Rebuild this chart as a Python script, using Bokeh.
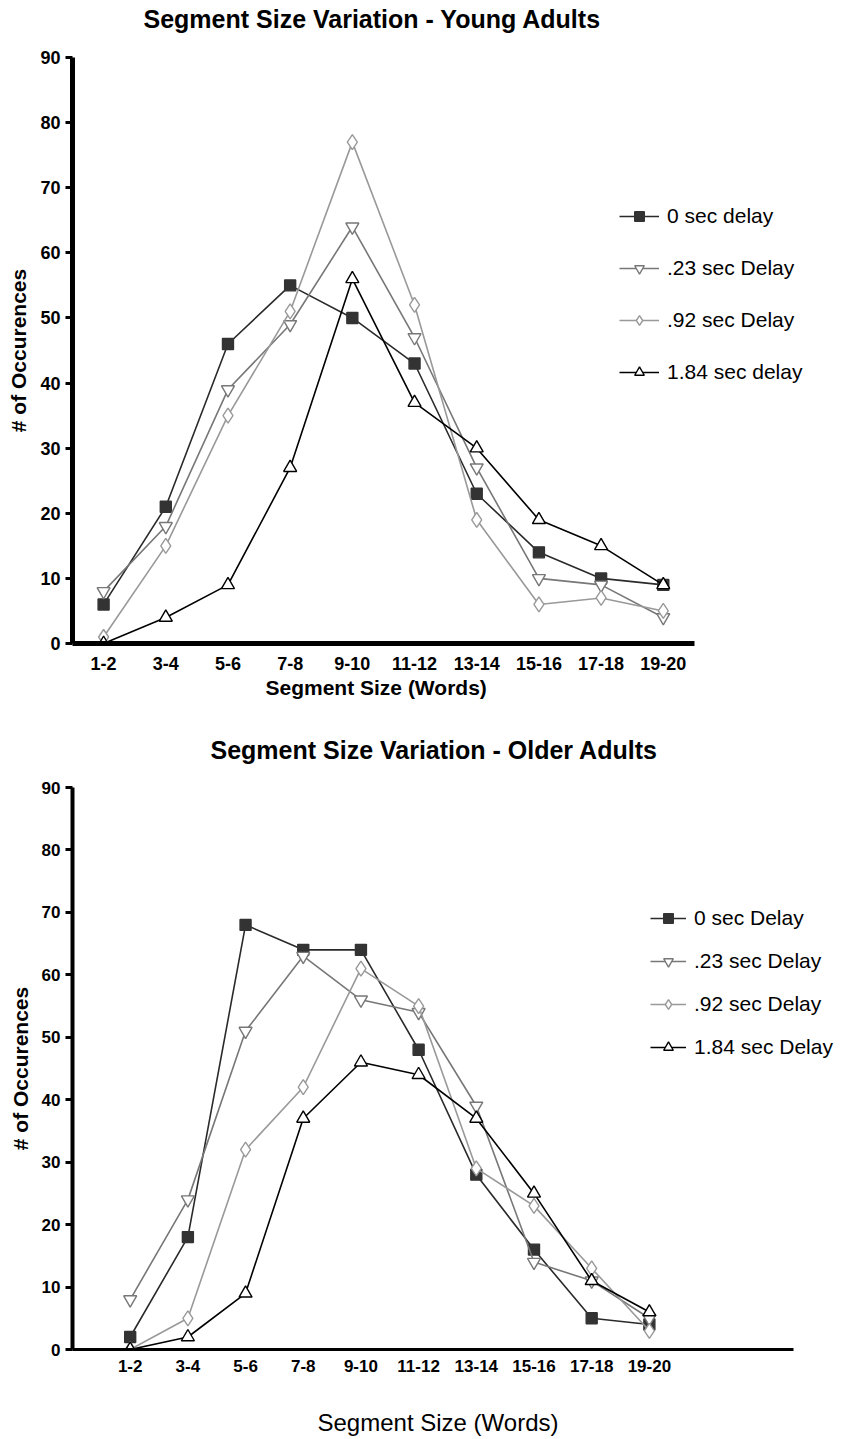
import numpy as np
from bokeh.plotting import figure
from bokeh.models import Range1d, FixedTicker, Legend, LegendItem, Title
from bokeh.embed import file_html
from bokeh.resources import INLINE

categories = ["1-2", "3-4", "5-6", "7-8", "9-10", "11-12", "13-14", "15-16", "17-18", "19-20"]
y_ticks = [0, 10, 20, 30, 40, 50, 60, 70, 80, 90]

young_0 = [6, 21, 46, 55, 50, 43, 23, 14, 10, 9]
young_023 = [8, 18, 39, 49, 64, 47, 27, 10, 9, 4]
young_092 = [1, 15, 35, 51, 77, 52, 19, 6, 7, 5]
young_184 = [0, 4, 9, 27, 56, 37, 30, 19, 15, 9]
young_labels = ["0 sec delay", ".23 sec Delay", ".92 sec Delay", "1.84 sec delay"]

older_0 = [2, 18, 68, 64, 64, 48, 28, 16, 5, 4]
older_023 = [8, 24, 51, 63, 56, 54, 39, 14, 11, 5]
older_092 = [0, 5, 32, 42, 61, 55, 29, 23, 13, 3]
older_184 = [0, 2, 9, 37, 46, 44, 37, 25, 11, 6]
older_labels = ["0 sec Delay", ".23 sec Delay", ".92 sec Delay", "1.84 sec Delay"]

x_title = "Segment Size (Words)"
y_title = "# of Occurences"

FONT = "Liberation Sans"
x_idx = list(range(len(categories)))

styles = [
    dict(line="#2a2a2a", marker="square", fill="#333333", mline="#333333", size=11),
    dict(line="#777777", marker="inverted_triangle", fill="white", mline="#777777", size=13),
    dict(line="#999999", marker="diamond", fill="white", mline="#999999", size=15),
    dict(line="#000000", marker="triangle", fill="white", mline="#000000", size=13),
]


def spacer(gap):
    return Title(text=" ", text_font_size="1px", standoff=gap)


def build(title, series, labels, x_start, x_end, x_bounds, height, borders, tick_size,
          xtick_standoff, axis_w, legend_loc, legend_spacing, glyph_w,
          top_gap, title_offset, xlab_style, xlab_size, xlab_gap, xlab_standoff, xlab_offset):
    left, right, top, bottom = borders
    p = figure(width=845, height=height, output_backend="svg", toolbar_location=None,
               title=None,
               x_range=Range1d(x_start, x_end), y_range=Range1d(0, 90),
               min_border_left=left, min_border_right=right,
               min_border_top=top, min_border_bottom=bottom)
    p.outline_line_color = None
    p.xgrid.grid_line_color = None
    p.ygrid.grid_line_color = None
    p.background_fill_color = "white"
    p.border_fill_color = "white"

    # title (above), with a blank spacer between it and the frame
    p.add_layout(spacer(top_gap), "above")
    p.add_layout(Title(text=title, text_font=FONT, text_font_size="25px",
                       text_font_style="bold", text_color="black",
                       align="left", offset=title_offset, standoff=0), "above")

    xa = p.xaxis[0]
    xa.bounds = x_bounds
    xa.ticker = FixedTicker(ticks=x_idx)
    xa.major_label_overrides = {i: c for i, c in zip(x_idx, categories)}
    xa.major_tick_out = 0
    xa.major_tick_in = 0
    xa.minor_tick_out = 0
    xa.minor_tick_in = 0
    xa.axis_line_width = axis_w[1]
    xa.axis_line_color = "black"
    xa.major_label_text_font = FONT
    xa.major_label_text_font_style = "bold"
    xa.major_label_text_font_size = tick_size
    xa.major_label_text_color = "black"
    xa.major_label_standoff = xtick_standoff

    if xlab_gap > 0:
        p.add_layout(spacer(xlab_gap), "below")
    p.add_layout(Title(text=x_title, text_font=FONT, text_font_size=xlab_size,
                       text_font_style=xlab_style, text_color="black",
                       align="left", offset=xlab_offset, standoff=xlab_standoff), "below")

    ya = p.yaxis[0]
    ya.ticker = FixedTicker(ticks=y_ticks)
    ya.major_tick_out = 7
    ya.major_tick_in = 0
    ya.major_tick_line_width = 3
    ya.minor_tick_out = 0
    ya.minor_tick_in = 0
    ya.axis_line_width = axis_w[0]
    ya.axis_line_color = "black"
    ya.major_label_text_font = FONT
    ya.major_label_text_font_style = "bold"
    ya.major_label_text_font_size = tick_size
    ya.major_label_text_color = "black"
    ya.major_label_standoff = 5
    ya.axis_label = y_title
    ya.axis_label_text_font = FONT
    ya.axis_label_text_font_style = "bold"
    ya.axis_label_text_font_size = "21px"
    ya.axis_label_standoff = 7
    ya.axis_label_text_color = "black"

    items = []
    for vals, lab, st in zip(series, labels, styles):
        r1 = p.line(x_idx, vals, line_color=st["line"], line_width=1.6)
        r2 = p.scatter(x_idx, vals, marker=st["marker"], size=st["size"],
                       fill_color=st["fill"], line_color=st["mline"], line_width=1.4)
        items.append(LegendItem(label=lab, renderers=[r1, r2]))

    leg = Legend(items=items, location=legend_loc, orientation="vertical",
                 spacing=legend_spacing, padding=0, margin=0,
                 glyph_width=glyph_w, glyph_height=24, label_height=24,
                 label_standoff=8, border_line_color=None,
                 background_fill_alpha=0,
                 label_text_font=FONT, label_text_font_size="21px",
                 label_text_color="black")
    p.add_layout(leg, "center")
    return p


p1 = build("Segment Size Variation - Young Adults",
           [young_0, young_023, young_092, young_184], young_labels,
           -0.5, 11.93, (-0.5, 9.5), 710, (72, 0, 57, 67), "18px",
           13, (5, 5), (547, 259), 28, 40,
           22, 71, "bold", "21px", 0, 2, 193)

p2 = build("Segment Size Variation - Older Adults",
           [older_0, older_023, older_092, older_184], older_labels,
           -1.0, 12.40, (-1.0, 11.5), 729, (72, 0, 77, 90), "17px",
           10, (4, 3), (578, 290), 19, 36,
           21, 138, "normal", "24px", 29, 0, 245)

open("out.html", "w").write(file_html([p1, p2], INLINE))
